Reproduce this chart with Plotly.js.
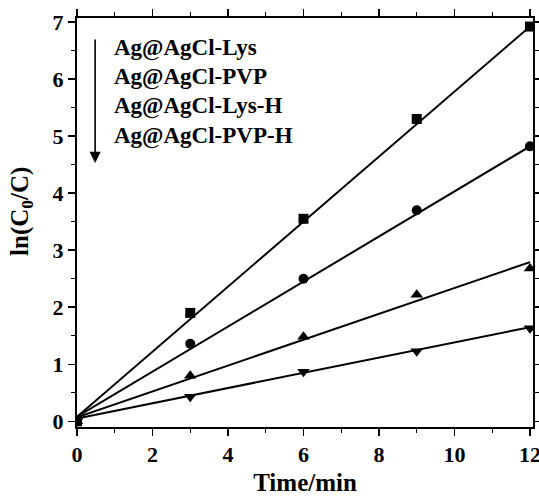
<!DOCTYPE html>
<html>
<head>
<meta charset="utf-8">
<script src="https://cdn.plot.ly/plotly-3.0.1.min.js"></script>
<style>html,body{margin:0;padding:0;background:#fff;}#chart{width:539px;height:496px;}</style>
</head>
<body>
<div id="chart"></div>
<script>
// Data
const time = [0, 3, 6, 9, 12];
const seriesNames = ["Ag@AgCl-Lys", "Ag@AgCl-PVP", "Ag@AgCl-Lys-H", "Ag@AgCl-PVP-H"];
const lysVals = [0.0, 1.90, 3.55, 5.30, 6.92];
const pvpVals = [0.0, 1.36, 2.50, 3.70, 4.82];
const lysHVals = [0.0, 0.80, 1.48, 2.22, 2.68];
const pvpHVals = [0.0, 0.43, 0.87, 1.23, 1.63];
// Linear-fit lines (endpoints)
const fitX = [0, 12];
const lysFit = [0.08, 6.92];
const pvpFit = [0.08, 4.82];
const lysHFit = [0.07, 2.79];
const pvpHFit = [0.05, 1.65];
const markerSymbols = ["square", "circle", "triangle-up", "triangle-down"];
const xTicks = [0, 2, 4, 6, 8, 10, 12];
const yTicks = [0, 1, 2, 3, 4, 5, 6, 7];
const xTitle = "Time/min";
const yTitle = "ln(C<sub>0</sub>/C)";

const pts = [lysVals, pvpVals, lysHVals, pvpHVals];
const fits = [lysFit, pvpFit, lysHFit, pvpHFit];
const sizes = [10, 10, 11, 11];
const traces = [];
fits.forEach((f, i) => {
  traces.push({x: fitX, y: f, mode: "lines", line: {color: "#000", width: 2}, showlegend: false, hoverinfo: "skip"});
});
pts.forEach((p, i) => {
  traces.push({x: time, y: p, mode: "markers", name: seriesNames[i],
    marker: {symbol: markerSymbols[i], size: sizes[i], color: "#000"}, showlegend: false});
});

const fontFam = "Liberation Serif, Times New Roman, serif";
const annotations = seriesNames.map((n, i) => ({
  x: 0.93, y: [6.55, 6.03, 5.52, 5.01][i], xref: "x", yref: "y",
  text: "<b>" + n + "</b>", showarrow: false, xanchor: "left", yanchor: "middle",
  font: {family: fontFam, size: 23, color: "#000"}
}));
annotations.push({
  x: 0.48, y: 4.53, ax: 0.48, ay: 6.72, xref: "x", yref: "y", axref: "x", ayref: "y",
  showarrow: true, arrowhead: 2, arrowsize: 1.4, arrowwidth: 1.6, arrowcolor: "#000", text: ""
});
// y-axis title drawn as a rotated annotation (placed slightly above centre as in the reference)
annotations.push({
  x: -0.123, y: 0.528, xref: "paper", yref: "paper", textangle: -90,
  text: "<b>" + yTitle + "</b>", showarrow: false, xanchor: "center", yanchor: "middle",
  font: {family: fontFam, size: 25, color: "#000"}
});

const axisCommon = {
  showgrid: false, zeroline: false, showline: true, linecolor: "#000", linewidth: 2,
  mirror: "allticks", ticks: "outside", ticklen: 7, tickwidth: 1.5, tickcolor: "#000",
  ticklabeloverflow: "allow",
  tickfont: {family: fontFam, size: 22, color: "#000"}
};

const layout = {
  width: 539, height: 496,
  margin: {l: 77, r: 6, t: 18, b: 69},
  paper_bgcolor: "#fff", plot_bgcolor: "#fff",
  showlegend: false,
  xaxis: Object.assign({}, axisCommon, {
    range: [0, 12.08], tickvals: xTicks, ticktext: xTicks.map(v => "<b>" + v + "</b>"),
    minor: {dtick: 1, ticks: "outside", ticklen: 4, tickwidth: 1.2, tickcolor: "#000"},
    title: {text: "<b>" + xTitle + "</b>", font: {family: fontFam, size: 25, color: "#000"}, standoff: 12}
  }),
  yaxis: Object.assign({}, axisCommon, {
    range: [-0.1, 7.07], tickvals: yTicks, ticktext: yTicks.map(v => "<b>" + v + "</b>"),
    minor: {dtick: 0.5, ticks: "outside", ticklen: 4, tickwidth: 1.2, tickcolor: "#000"}
  }),
  annotations: annotations
};

Plotly.newPlot("chart", traces, layout, {staticPlot: true, displayModeBar: false});
</script>
</body>
</html>
